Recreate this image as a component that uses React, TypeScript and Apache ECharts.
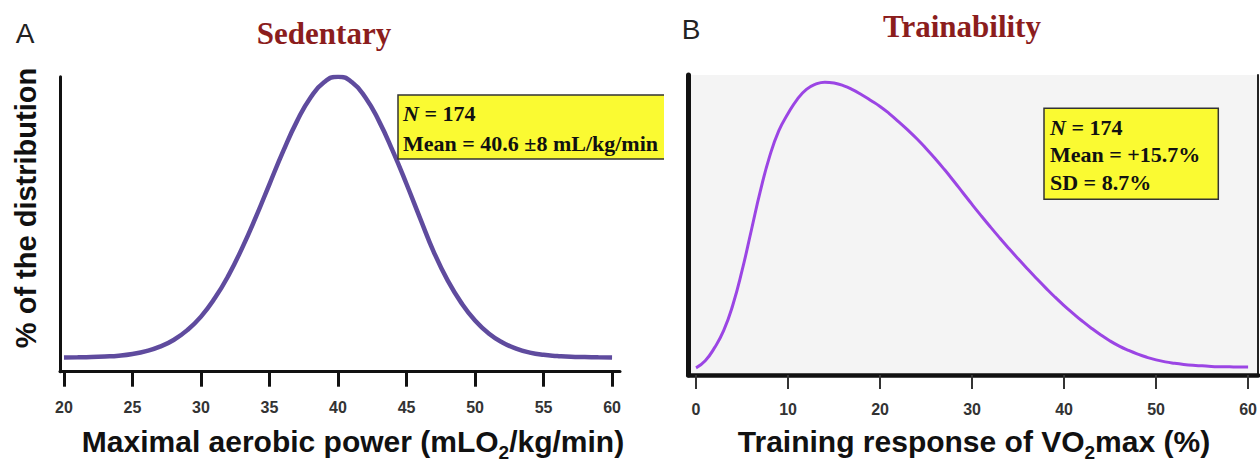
import React, { useEffect, useRef } from "react";
import * as echarts from "echarts";

// Panel A: Sedentary (maximal aerobic power, mL O2/kg/min) – % of distribution (relative to peak)
const xA = [20, 21, 22, 23, 24, 25, 26, 27, 28, 29, 30, 31, 32, 33, 34, 35, 36, 37, 38, 39, 40, 41, 42, 43, 44, 45, 46, 47, 48, 49, 50, 51, 52, 53, 54, 55, 56, 57, 58, 59, 60];
const yA = [0.05, 0.1, 0.2, 0.4, 0.7, 1.3, 2.3, 3.9, 6.3, 9.8, 14.6, 21.1, 29.2, 39.0, 50.0, 61.8, 73.5, 84.1, 92.6, 98.1, 100, 98.1, 92.6, 84.1, 73.5, 61.8, 49.5, 37.5, 27.5, 19.5, 13.2, 8.6, 5.4, 3.2, 1.8, 1.0, 0.6, 0.3, 0.2, 0.1, 0.05];
const ticksA = [20, 25, 30, 35, 40, 45, 50, 55, 60];

// Panel B: Trainability (training response of VO2max, %)
const xB = [0, 1, 2, 3, 4, 5, 6, 7, 8, 9, 10, 11, 12, 13, 14, 15, 16, 17, 18, 19, 20, 21, 22, 23, 24, 25, 26, 27, 28, 29, 30, 31, 32, 33, 34, 35, 36, 37, 38, 39, 40, 41, 42, 43, 44, 45, 46, 47, 48, 49, 50, 51, 52, 53, 54, 55, 56, 57, 58, 59, 60];
const yB = [0, 2.5, 7, 13, 22, 34, 48, 62, 74, 83, 89, 94, 97.5, 99.3, 100, 99.7, 98.8, 97.4, 95.6, 93.6, 91.5, 89, 86.2, 83.3, 80.2, 76.8, 73.2, 69.4, 65.4, 61.3, 57.2, 53.2, 49.3, 45.5, 41.8, 38.2, 34.7, 31.3, 28, 24.8, 21.8, 19, 16.3, 13.8, 11.5, 9.4, 7.6, 6.1, 4.8, 3.7, 2.8, 2.1, 1.6, 1.2, 0.9, 0.7, 0.5, 0.4, 0.35, 0.3, 0.3];
const ticksB = [0, 10, 20, 30, 40, 50, 60];

const titleA = "Sedentary";
const titleB = "Trainability";
const yLabelA = "% of the distribution";
const xLabelA = "Maximal aerobic power (mLO{sub|2}/kg/min)";
const xLabelB = "Training response of VO{sub|2}max (%)";
const boxA = ["{i|N} = 174", "Mean = 40.6 ±8 mL/kg/min"];
const boxB = ["{i|N} = 174", "Mean = +15.7%", "SD = 8.7%"];

const SANS = "'Liberation Sans', Arial, Helvetica, sans-serif";
const SERIF = "'Liberation Serif', 'Times New Roman', Times, serif";
const YELLOW = "#fafa32";

export default function App() {
  const ref = useRef<HTMLDivElement>(null);
  useEffect(() => {
    if (!ref.current) return;
    const chart = echarts.init(ref.current, null, { renderer: "svg" });

    const tickLabel = (margin: number) => ({
      margin,
      fontSize: 16,
      fontWeight: "bold",
      color: "#333",
      fontFamily: SANS,
    });

    const serifRich = { i: { fontStyle: "italic", fontWeight: "bold", fontFamily: SERIF, fontSize: 22, fill: "#111" } };
    const boxText = (lines: string[], x: number, y0: number, step: number) =>
      lines.map((t, k) => ({
        type: "text",
        x,
        y: y0 + k * step,
        z: 20,
        style: {
          text: t,
          fontFamily: SERIF,
          fontWeight: "bold",
          fontSize: 22,
          fill: "#111",
          align: "left",
          verticalAlign: "middle",
          rich: serifRich,
        },
      }));

    const subRich = {
      sub: { fontSize: 19, fontWeight: "bold", fontFamily: SANS, verticalAlign: "bottom", lineHeight: 42, fill: "#111" },
    };

    const option: any = {
      animation: false,
      backgroundColor: "#ffffff",
      grid: [
        { left: 60, top: 76.7, width: 560, height: 295 },
        { left: 688.3, top: 75, width: 570, height: 300, show: true, backgroundColor: "#f4f4f4", borderWidth: 0 },
      ],
      xAxis: [
        {
          gridIndex: 0,
          type: "value",
          min: 19.71,
          max: 60.58,
          axisLine: { show: true, onZero: false, lineStyle: { color: "#111", width: 3 } },
          axisTick: { show: true, customValues: ticksA, length: 15, lineStyle: { color: "#111", width: 3 } },
          axisLabel: { ...tickLabel(28), customValues: ticksA },
          splitLine: { show: false },
        },
        {
          gridIndex: 1,
          type: "value",
          min: -0.84,
          max: 61.09,
          axisLine: { show: true, onZero: false, lineStyle: { color: "#111", width: 4.5 } },
          axisTick: { show: true, customValues: ticksB, length: 14, lineStyle: { color: "#333", width: 2 } },
          axisLabel: { ...tickLabel(26), customValues: ticksB },
          splitLine: { show: false },
        },
      ],
      yAxis: [
        {
          gridIndex: 0,
          type: "value",
          min: -5,
          max: 100,
          axisLine: { show: true, onZero: false, lineStyle: { color: "#111", width: 3 } },
          axisTick: { show: false },
          axisLabel: { show: false },
          splitLine: { show: false },
        },
        {
          gridIndex: 1,
          type: "value",
          min: -2.5,
          max: 102.5,
          axisLine: { show: true, onZero: false, lineStyle: { color: "#111", width: 5 } },
          axisTick: { show: false },
          axisLabel: { show: false },
          splitLine: { show: false },
        },
        {
          gridIndex: 1,
          type: "value",
          position: "right",
          min: -2.5,
          max: 102.5,
          axisLine: { show: true, onZero: false, lineStyle: { color: "#222", width: 2 } },
          axisTick: { show: false },
          axisLabel: { show: false },
          splitLine: { show: false },
        },
      ],
      series: [
        {
          type: "line",
          xAxisIndex: 0,
          yAxisIndex: 0,
          data: xA.map((x, i) => [x, yA[i]]),
          smooth: true,
          showSymbol: false,
          lineStyle: { color: "#5f4b9e", width: 4.5 },
          z: 5,
        },
        {
          type: "line",
          xAxisIndex: 1,
          yAxisIndex: 1,
          data: xB.map((x, i) => [x, yB[i]]),
          smooth: true,
          showSymbol: false,
          lineStyle: { color: "#9b45e4", width: 3 },
          z: 5,
        },
      ],
      graphic: [
        { type: "text", x: 25, y: 33, style: { text: "A", fontFamily: SANS, fontSize: 28, fill: "#222", align: "center", verticalAlign: "middle" } },
        { type: "text", x: 691, y: 29, style: { text: "B", fontFamily: SANS, fontSize: 28, fill: "#222", align: "center", verticalAlign: "middle" } },
        { type: "text", x: 324, y: 33, style: { text: titleA, fontFamily: SERIF, fontWeight: "bold", fontSize: 31, fill: "#8b1d1d", align: "center", verticalAlign: "middle" } },
        { type: "text", x: 962, y: 26, style: { text: titleB, fontFamily: SERIF, fontWeight: "bold", fontSize: 31, fill: "#8b1d1d", align: "center", verticalAlign: "middle" } },
        {
          type: "text",
          x: 26,
          y: 208,
          rotation: Math.PI / 2,
          style: { text: yLabelA, fontFamily: SANS, fontWeight: "bold", fontSize: 29, fill: "#111", align: "center", verticalAlign: "middle" },
        },
        {
          type: "text",
          x: 353,
          y: 441,
          style: { text: xLabelA, fontFamily: SANS, fontWeight: "bold", fontSize: 30, fill: "#111", align: "center", verticalAlign: "middle", rich: subRich },
        },
        {
          type: "text",
          x: 974,
          y: 441,
          style: { text: xLabelB, fontFamily: SANS, fontWeight: "bold", fontSize: 30, fill: "#111", align: "center", verticalAlign: "middle", rich: subRich },
        },
        // Box A (clipped at the panel's right edge)
        { type: "rect", z: 10, shape: { x: 398, y: 95, width: 266, height: 64 }, style: { fill: YELLOW } },
        { type: "polyline", z: 11, shape: { points: [[664, 95], [398, 95], [398, 159], [664, 159]] }, style: { stroke: "#333", lineWidth: 1.5, fill: null } },
        ...boxText(boxA, 403, 113, 30),
        // Box B
        { type: "rect", z: 10, shape: { x: 1044, y: 108.3, width: 174.3, height: 91 }, style: { fill: YELLOW, stroke: "#333", lineWidth: 1.5 } },
        ...boxText(boxB, 1050, 127, 27.5),
      ],
    };
    chart.setOption(option);
    return () => chart.dispose();
  }, []);
  return <div ref={ref} style={{ position: "absolute", left: 0, top: 0, width: 1260, height: 463 }} />;
}
